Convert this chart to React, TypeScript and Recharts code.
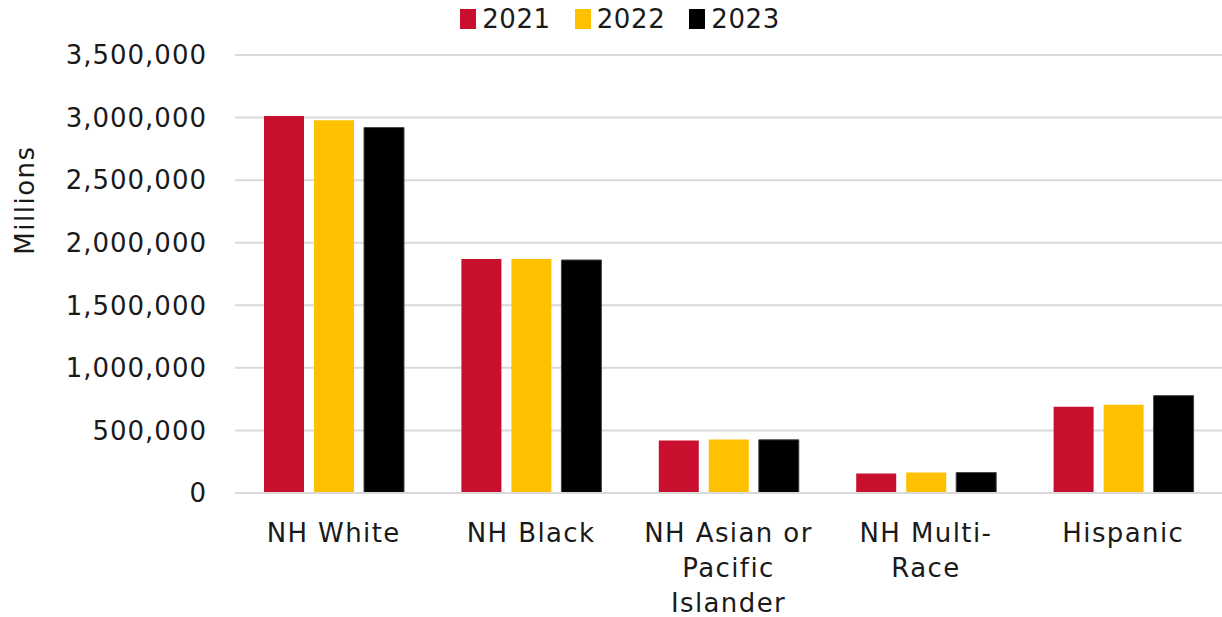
import { BarChart, Bar, XAxis, YAxis, CartesianGrid, Label } from "recharts";

document.body.style.margin = "0";

const categories = ["NH White", "NH Black", "NH Asian or\nPacific\nIslander", "NH Multi-\nRace", "Hispanic"];
const y2021 = [3013000, 1870000, 419000, 155000, 690000];
const y2022 = [2978000, 1870000, 427000, 163000, 706000];
const y2023 = [2920000, 1862000, 425000, 163000, 778000];
const yTicks = [0, 500000, 1000000, 1500000, 2000000, 2500000, 3000000, 3500000];

const series = [
  { key: "y2021", name: "2021", color: "#C8102E" },
  { key: "y2022", name: "2022", color: "#FFC000" },
  { key: "y2023", name: "2023", color: "#000000" },
];

const FONT = "'DejaVu Sans', sans-serif";
const TEXT = "#1a1a1a";

const CategoryTick = ({ x, y, payload }: any) => {
  const lines = String(payload.value).split("\n");
  return (
    <text x={x} y={y} textAnchor="middle" fill={TEXT} fontSize={26} fontFamily={FONT} letterSpacing={1.4}>
      {lines.map((line, i) => (
        <tspan key={i} x={x} dy={i === 0 ? 41 : 35}>
          {line}
        </tspan>
      ))}
    </text>
  );
};

const App = () => {
  const data = categories.map((name, i) => ({
    name,
    y2021: y2021[i],
    y2022: y2022[i],
    y2023: y2023[i],
  }));

  return (
    <div style={{ position: "relative", width: 1222, height: 617, background: "#fff", fontFamily: FONT }}>
      <div
        style={{
          position: "absolute",
          top: 0,
          left: 0,
          width: "100%",
          display: "flex",
          justifyContent: "center",
          paddingLeft: 18,
          boxSizing: "border-box",
          gap: 24,
          fontSize: 26,
          letterSpacing: 0.6,
          color: TEXT,
          lineHeight: "38px",
          zIndex: 1,
        }}
      >
        {series.map((s) => (
          <div key={s.key} style={{ display: "flex", alignItems: "center", gap: 6 }}>
            <div style={{ width: 16, height: 20, background: s.color }} />
            <span>{s.name}</span>
          </div>
        ))}
      </div>
      <BarChart
        width={1222}
        height={617}
        data={data}
        margin={{ top: 55, right: 0, left: 0, bottom: 0 }}
        barSize={40}
        barGap={10}
      >
        <CartesianGrid vertical={false} stroke="#d9d9d9" strokeWidth={2} />
        <XAxis
          dataKey="name"
          interval={0}
          height={124}
          tickLine={false}
          axisLine={{ stroke: "#d9d9d9", strokeWidth: 2 }}
          tick={<CategoryTick />}
        />
        <YAxis
          width={235}
          domain={[0, 3500000]}
          ticks={yTicks}
          interval={0}
          axisLine={false}
          tickLine={false}
          tickSize={0}
          tickMargin={28}
          tick={{ fill: TEXT, fontSize: 26, fontFamily: FONT, letterSpacing: 1 }}
          tickFormatter={(v: number) => v.toLocaleString("en-US")}
        >
          <Label
            content={() => (
              <text
                x={25}
                y={200}
                transform="rotate(-90 25 200)"
                textAnchor="middle"
                dominantBaseline="central"
                fill={TEXT}
                fontSize={26}
                fontFamily={FONT}
                letterSpacing={1.5}
              >
                Millions
              </text>
            )}
          />
        </YAxis>
        {series.map((s) => (
          <Bar
            key={s.key}
            dataKey={s.key}
            name={s.name}
            fill={s.color}
            stroke={s.key === "y2023" ? "#444" : undefined}
            strokeWidth={s.key === "y2023" ? 1 : 0}
            isAnimationActive={false}
          />
        ))}
      </BarChart>
    </div>
  );
};

export default App;
